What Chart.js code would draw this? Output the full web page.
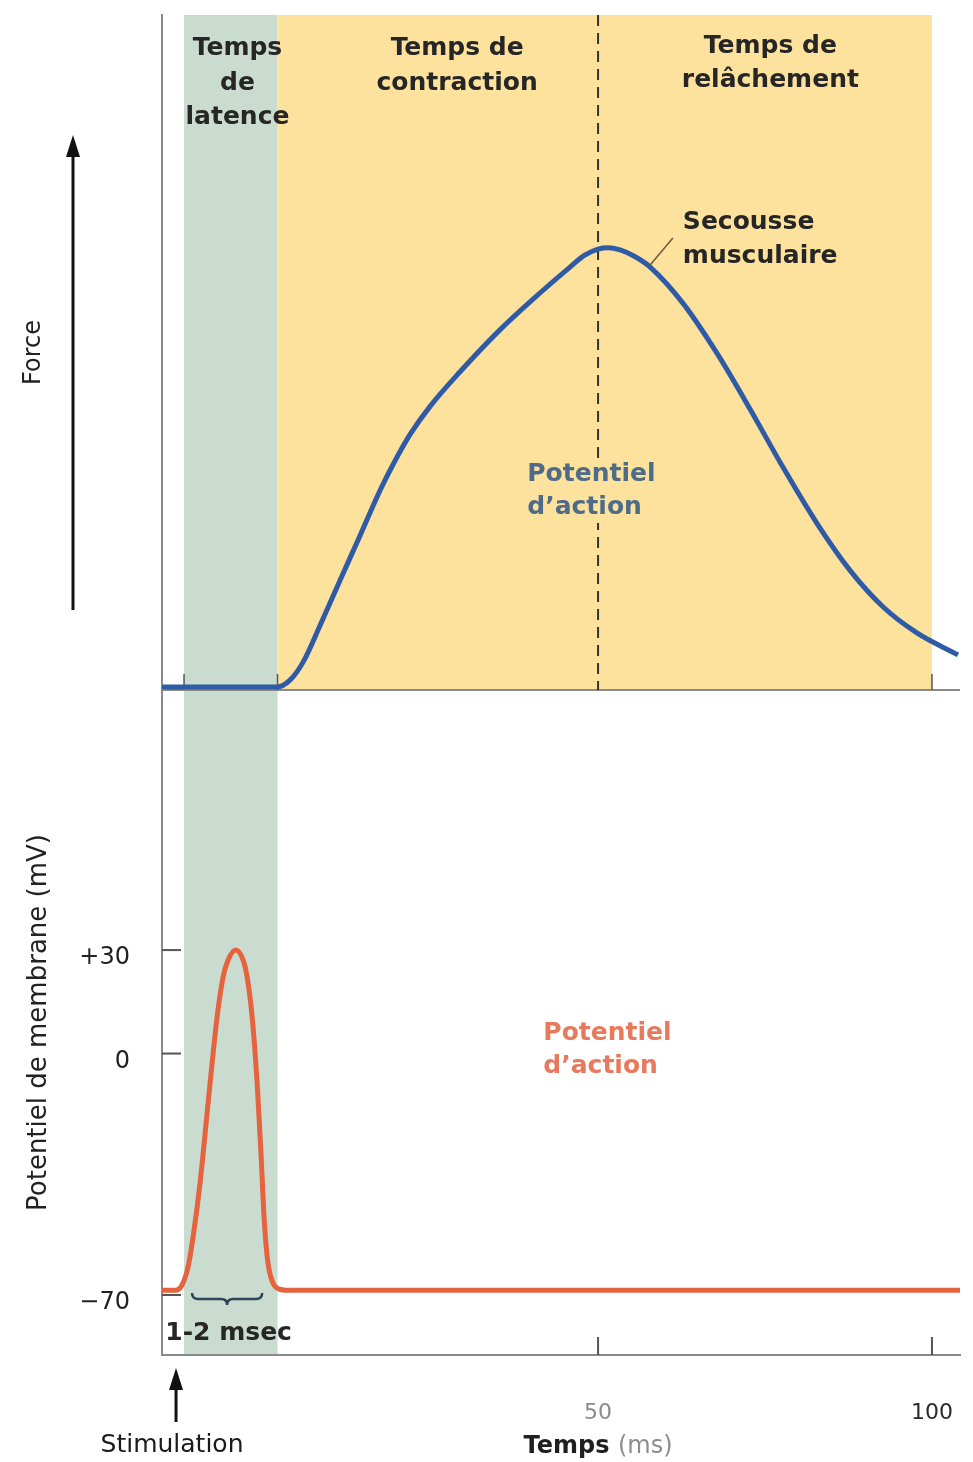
<!DOCTYPE html>
<html lang="fr">
<head>
<meta charset="utf-8">
<title>Secousse musculaire</title>
<script src="https://cdn.jsdelivr.net/npm/chart.js@4.4.1/dist/chart.umd.min.js"></script>
<style>
  html, body { margin: 0; padding: 0; background: #fff; }
  #wrap { position: relative; width: 973px; height: 1462px; }
</style>
</head>
<body>
<div id="wrap"><canvas id="twitchChart"></canvas></div>
<script>
// secousse musculaire : temps (ms) / force (unités arbitraires)
const forceTime = [-15.3, 0, 1.95, 3.9, 5.85, 8.4, 11.4, 14.4, 17.4, 19.6, 21.9, 24.9, 29.3, 35.3, 41.3, 45.8, 48, 50, 51.5, 53.3, 55.5, 57.8, 62.7, 67.8, 72.75, 77.7, 82.8, 87.7, 92.7, 97.75, 103.9];
const forceValues = [0, 0, 0, 1.6, 5.7, 14.1, 24.4, 34.6, 44.9, 51.5, 57.6, 64.0, 71.7, 81.3, 89.7, 95.6, 98.3, 99.7, 100, 99.5, 98.0, 95.6, 87.4, 76.0, 63.3, 50.0, 37.2, 26.6, 18.2, 12.3, 7.3];

// potentiel d'action : temps (ms) / potentiel de membrane (mV)
const vmTime = [-15.3, -13.2, -12.3, -11.4, -10.5, -9.6, -8.1, -7.05, -6.15, -5.4, -4.25, -3.15, -2.55, -1.8, -1.05, -0.45, 0.0, 0.52, 1.2, 2.25, 3.3, 104.2];
const vmValues = [-68.6, -68.6, -67.1, -61.9, -51.2, -37.5, -8.6, 10.6, 22.2, 27.1, 30, 27.1, 22.2, 10.6, -8.6, -30, -48, -60, -66, -68.3, -68.6, -68.6];

// graduations et phases (début latence, fin latence, pic, fin relâchement)
const timeTicks = [50, 100];
const vmTicks = [30, 0, -70];
const phases = [-12, 2, 50, 100];
const stimulusTime = -13.2;

const FONT = "'DejaVu Sans', sans-serif";
Chart.defaults.font.family = FONT;

function line(ctx, x1, y1, x2, y2) {
  ctx.beginPath();
  ctx.moveTo(x1, y1);
  ctx.lineTo(x2, y2);
  ctx.stroke();
}

function label(ctx, str, x, y, font, color, align) {
  ctx.font = font;
  ctx.fillStyle = color;
  ctx.textAlign = align || 'center';
  ctx.textBaseline = 'middle';
  ctx.fillText(str, x, y);
}

function arrowUp(ctx, x, yTip, yTail) {
  ctx.strokeStyle = '#111';
  ctx.fillStyle = '#111';
  ctx.lineWidth = 3;
  line(ctx, x, yTail, x, yTip + 16);
  ctx.beginPath();
  ctx.moveTo(x, yTip);
  ctx.lineTo(x - 7, yTip + 22);
  ctx.lineTo(x + 7, yTip + 22);
  ctx.closePath();
  ctx.fill();
}

// pas de marge automatique autour des axes
function noPadding(scale) {
  scale.paddingTop = 0;
  scale.paddingBottom = 0;
  scale.paddingLeft = 0;
  scale.paddingRight = 0;
}

const overlay = {
  id: 'overlay',
  beforeDraw(chart) {
    const { ctx, scales: { x, yF, yV } } = chart;
    const l0 = x.getPixelForValue(phases[0]);
    const l1 = x.getPixelForValue(phases[1]);
    const r = x.getPixelForValue(phases[3]);
    ctx.save();
    ctx.fillStyle = '#c9dccf';
    ctx.fillRect(l0, yF.top, l1 - l0, yV.bottom - yF.top);
    ctx.fillStyle = '#fde29d';
    ctx.fillRect(l1, yF.top, r - l1, yF.bottom - yF.top);
    ctx.restore();
  },
  beforeDatasetsDraw(chart) {
    const { ctx, scales: { x, yF, yV } } = chart;
    ctx.save();
    // ligne de base du panneau force
    ctx.strokeStyle = '#8a8a8a';
    ctx.lineWidth = 2;
    line(ctx, x.left, yF.bottom, x.right, yF.bottom);

    // pic de la secousse
    const pk = x.getPixelForValue(phases[2]);
    ctx.strokeStyle = '#333';
    ctx.setLineDash([11, 7]);
    line(ctx, pk, yF.top, pk, yF.bottom);
    ctx.setLineDash([]);

    // graduations tournées vers l'intérieur
    ctx.strokeStyle = '#555';
    vmTicks.forEach(v => {
      const py = yV.getPixelForValue(v);
      line(ctx, yV.right, py, yV.right + 19, py);
    });
    timeTicks.forEach(v => {
      const p = x.getPixelForValue(v);
      line(ctx, p, x.top, p, x.top - 18);
    });
    ctx.lineWidth = 1.5;
    [phases[0], phases[1], phases[3]].forEach(v => {
      const p = x.getPixelForValue(v);
      line(ctx, p, yF.bottom, p, yF.bottom - 16);
    });
    ctx.restore();
  },
  afterDatasetsDraw(chart) {
    const { ctx, scales: { x, yF, yV } } = chart;
    const bold = 'bold 25px ' + FONT;
    const dark = '#262626';
    const t = yF.top;
    ctx.save();

    // en-têtes des phases
    const cLat = x.getPixelForValue(-4.0);
    label(ctx, 'Temps', cLat, t + 33, bold, dark);
    label(ctx, 'de', cLat, t + 68, bold, dark);
    label(ctx, 'latence', cLat, t + 102, bold, dark);
    const cCon = x.getPixelForValue(28.9);
    label(ctx, 'Temps de', cCon, t + 33, bold, dark);
    label(ctx, 'contraction', cCon, t + 68, bold, dark);
    const cRel = x.getPixelForValue(75.8);
    label(ctx, 'Temps de', cRel, t + 31, bold, dark);
    label(ctx, 'relâchement', cRel, t + 65, bold, dark);

    // secousse musculaire + trait de rappel
    const sx = x.getPixelForValue(62.7);
    label(ctx, 'Secousse', sx, t + 207, bold, dark, 'left');
    label(ctx, 'musculaire', sx, t + 241, bold, dark, 'left');
    ctx.strokeStyle = '#6b5a3a';
    ctx.lineWidth = 1.5;
    line(ctx, x.getPixelForValue(57.8), t + 250, x.getPixelForValue(61.2), t + 223);

    // potentiel d'action (panneau force)
    const px1 = x.getPixelForValue(39.4);
    ctx.fillStyle = '#fde29d';
    ctx.fillRect(px1 - 2, t + 444, 126, 64);
    label(ctx, 'Potentiel', px1, t + 459, bold, '#4e6b88', 'left');
    label(ctx, 'd\u2019action', px1, t + 492, bold, '#4e6b88', 'left');

    // potentiel d'action (panneau membrane)
    const px2 = x.getPixelForValue(41.8);
    label(ctx, 'Potentiel', px2, yV.top + 343, bold, '#e8795c', 'left');
    label(ctx, 'd\u2019action', px2, yV.top + 376, bold, '#e8795c', 'left');

    // accolade 1-2 msec
    const b0 = x.getPixelForValue(-10.8);
    const b1 = x.getPixelForValue(-0.3);
    const bm = (b0 + b1) / 2;
    const by = yV.getPixelForValue(-70) - 2;
    ctx.strokeStyle = '#2d4657';
    ctx.lineWidth = 2.5;
    ctx.beginPath();
    ctx.moveTo(b0, by);
    ctx.quadraticCurveTo(b0, by + 6, b0 + 6, by + 6);
    ctx.lineTo(bm - 6, by + 6);
    ctx.quadraticCurveTo(bm, by + 6, bm, by + 12);
    ctx.quadraticCurveTo(bm, by + 6, bm + 6, by + 6);
    ctx.lineTo(b1 - 6, by + 6);
    ctx.quadraticCurveTo(b1, by + 6, b1, by);
    ctx.stroke();
    label(ctx, '1-2 msec', x.getPixelForValue(-14.8), x.top - 22, bold, dark, 'left');

    // flèche de la force
    arrowUp(ctx, 73, yF.top + 120, yF.bottom - 80);

    // stimulation
    const st = x.getPixelForValue(stimulusTime);
    arrowUp(ctx, st, x.top + 13, x.top + 67);
    label(ctx, 'Stimulation', st - 4, x.top + 90, '25px ' + FONT, '#1a1a1a');

    // titre de l'axe des temps
    ctx.font = 'bold 24px ' + FONT;
    const w1 = ctx.measureText('Temps ').width;
    ctx.font = '24px ' + FONT;
    const w2 = ctx.measureText('(ms)').width;
    const tx = x.getPixelForValue(50) - (w1 + w2) / 2;
    label(ctx, 'Temps ', tx, x.top + 92, 'bold 24px ' + FONT, '#1f1f1f', 'left');
    label(ctx, '(ms)', tx + w1, x.top + 92, '24px ' + FONT, '#8c8c8c', 'left');
    ctx.restore();
  }
};

const ctx = document.getElementById('twitchChart').getContext('2d');
new Chart(ctx, {
  type: 'line',
  data: {
    datasets: [
      {
        label: 'Secousse musculaire',
        data: forceTime.map((t, i) => ({ x: t, y: forceValues[i] })),
        yAxisID: 'yF',
        borderColor: '#2f5aa6',
        borderWidth: 5,
        pointRadius: 0,
        cubicInterpolationMode: 'monotone',
      },
      {
        label: "Potentiel d'action",
        data: vmTime.map((t, i) => ({ x: t, y: vmValues[i] })),
        yAxisID: 'yV',
        borderColor: '#e5633f',
        borderWidth: 5,
        pointRadius: 0,
        cubicInterpolationMode: 'monotone',
      },
    ],
  },
  options: {
    responsive: true,
    maintainAspectRatio: false,
    animation: false,
    layout: { padding: { top: 15, right: 13, left: 0, bottom: 0 } },
    plugins: { legend: { display: false }, tooltip: { enabled: false } },
    scales: {
      x: {
        type: 'linear',
        position: 'bottom',
        min: -15.3,
        max: 104.2,
        grid: { display: false },
        border: { display: true, color: '#8a8a8a', width: 2 },
        afterBuildTicks: (scale) => { scale.ticks = timeTicks.map(v => ({ value: v })); },
        afterFit: (scale) => { scale.height = 107; noPadding(scale); },
        ticks: {
          autoSkip: false,
          maxRotation: 0,
          padding: 37,
          font: { size: 22 },
          color: (c) => (c.tick && c.tick.value === 50 ? '#8a8a8a' : '#2a2a2a'),
        },
      },
      yV: {
        type: 'linear',
        position: 'left',
        stack: 'panels',
        stackWeight: 665,
        min: -87.4,
        max: 105.4,
        grid: { display: false },
        border: { display: true, color: '#8a8a8a', width: 2 },
        afterBuildTicks: (scale) => { scale.ticks = vmTicks.map(v => ({ value: v })); },
        afterFit: (scale) => { scale.width = 162; noPadding(scale); },
        ticks: {
          padding: 24,
          labelOffset: 8,
          font: { size: 24 },
          color: '#222',
          callback: (v) => (v > 0 ? '+' + v : v < 0 ? '\u2212' + Math.abs(v) : '0'),
        },
        title: {
          display: true,
          text: 'Potentiel de membrane (mV)',
          color: '#222',
          font: { size: 26 },
          padding: { top: 24, bottom: 0 },
        },
      },
      yF: {
        type: 'linear',
        position: 'left',
        stack: 'panels',
        stackWeight: 675,
        min: -0.7,
        max: 153,
        grid: { display: false },
        border: { display: true, color: '#8a8a8a', width: 2 },
        afterFit: (scale) => { scale.width = 162; noPadding(scale); },
        ticks: { display: false },
        title: {
          display: true,
          text: 'Force',
          color: '#222',
          font: { size: 24 },
          padding: { top: 19, bottom: 0 },
        },
      },
    },
  },
  plugins: [overlay],
});
</script>
</body>
</html>
